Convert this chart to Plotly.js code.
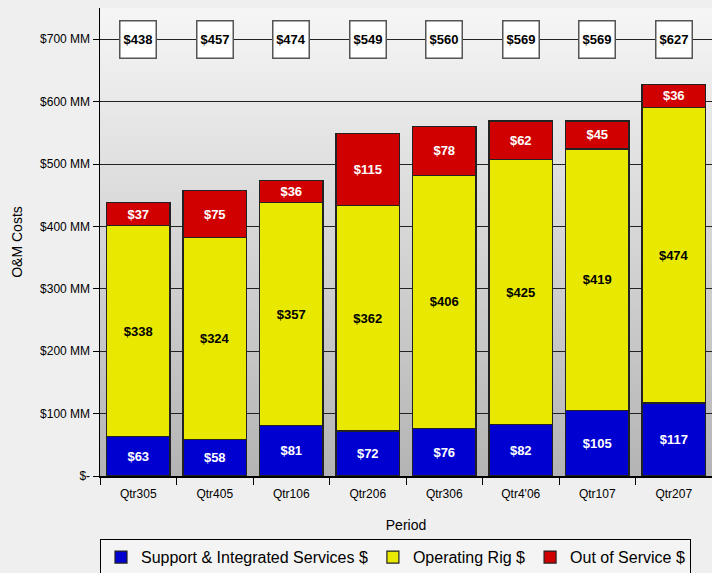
<!DOCTYPE html>
<html>
<head>
<meta charset="utf-8">
<script src="https://cdn.plot.ly/plotly-3.0.1.min.js"></script>
<style>
html,body{margin:0;padding:0;background:#efefef;}
#chart{width:712px;height:573px;}
</style>
</head>
<body>
<div id="chart"></div>
<script>
const periods = ["Qtr305", "Qtr405", "Qtr106", "Qtr206", "Qtr306", "Qtr4'06", "Qtr107", "Qtr207"];
const supportServices = [63, 58, 81, 72, 76, 82, 105, 117];
const operatingRig = [338, 324, 357, 362, 406, 425, 419, 474];
const outOfService = [37, 75, 36, 115, 78, 62, 45, 36];
const totals = [438, 457, 474, 549, 560, 569, 569, 627];
const tickValues = [0, 100, 200, 300, 400, 500, 600, 700];
const tickLabels = ["$-", "$100 MM", "$200 MM", "$300 MM", "$400 MM", "$500 MM", "$600 MM", "$700 MM"];
const totalsLevel = 700;

const fnt = "'Liberation Sans', Arial, sans-serif";

function barTrace(name, values, color, textColor) {
  return {
    type: 'bar', name: name, x: periods, y: values,
    marker: {color: color, line: {color: '#222', width: 1.2}},
    text: values.map(v => '$' + v),
    textposition: 'inside', insidetextanchor: 'middle',
    textfont: {family: fnt, size: 13, color: textColor, weight: 'bold'},
    constraintext: 'none',
    hoverinfo: 'skip'
  };
}

const data = [
  barTrace('Support & Integrated Services $', supportServices, '#0000d0', '#ffffff'),
  barTrace('Operating Rig $', operatingRig, '#e8e800', '#000000'),
  barTrace('Out of Service $', outOfService, '#d00000', '#ffffff')
];

const gradSvg = "<svg xmlns='http://www.w3.org/2000/svg' width='10' height='100' preserveAspectRatio='none'><defs><linearGradient id='g' x1='0' y1='0' x2='0' y2='1'><stop offset='0' stop-color='#f6f6f6'/><stop offset='1' stop-color='#b4b4b4'/></linearGradient></defs><rect width='10' height='100' fill='url(#g)'/></svg>";

const annotations = periods.map((p, i) => ({
  x: p, y: totalsLevel, xref: 'x', yref: 'y',
  text: '$' + totals[i], showarrow: false,
  font: {family: fnt, size: 13, color: '#000', weight: 'bold'},
  bgcolor: '#ffffff', bordercolor: '#555', borderwidth: 1.5,
  width: 33, height: 34, borderpad: 1
}));

const layout = {
  width: 712, height: 573,
  margin: {l: 100, r: 0, t: 8, b: 97, autoexpand: false},
  paper_bgcolor: '#efefef',
  plot_bgcolor: 'rgba(0,0,0,0)',
  barmode: 'stack',
  bargap: 0.17,
  showlegend: true,
  images: [{
    source: 'data:image/svg+xml;charset=utf-8,' + encodeURIComponent(gradSvg),
    xref: 'paper', yref: 'paper', x: 0, y: 1, sizex: 1, sizey: 1,
    sizing: 'stretch', layer: 'below', xanchor: 'left', yanchor: 'top'
  }],
  xaxis: {
    type: 'category',
    showline: true, linecolor: '#000', linewidth: 1.5,
    ticks: 'outside', tickson: 'boundaries', ticklen: 7, tickcolor: '#000',
    ticklabelstandoff: 6,
    tickfont: {family: fnt, size: 12, color: '#000'},
    title: {text: 'Period', font: {family: fnt, size: 14, color: '#000'}, standoff: 20},
    showgrid: false
  },
  yaxis: {
    range: [0, 750],
    tickvals: tickValues, ticktext: tickLabels,
    showline: true, linecolor: '#000', linewidth: 1.5,
    ticks: 'outside', ticklen: 6, tickcolor: '#000',
    tickfont: {family: fnt, size: 12, color: '#000'},
    showgrid: true, gridcolor: '#222', gridwidth: 1,
    zeroline: false,
    title: {text: 'O&amp;M Costs', font: {family: fnt, size: 14, color: '#000'}, standoff: 14}
  },
  legend: {
    orientation: 'h', x: 0, y: -0.135, xanchor: 'left', yanchor: 'top',
    bordercolor: '#000', borderwidth: 1, bgcolor: '#f4f4f4',
    font: {family: fnt, size: 16, color: '#000'},
    traceorder: 'normal', itemwidth: 30
  },
  annotations: annotations
};

Plotly.newPlot('chart', data, layout, {displayModeBar: false, staticPlot: true});
</script>
</body>
</html>
